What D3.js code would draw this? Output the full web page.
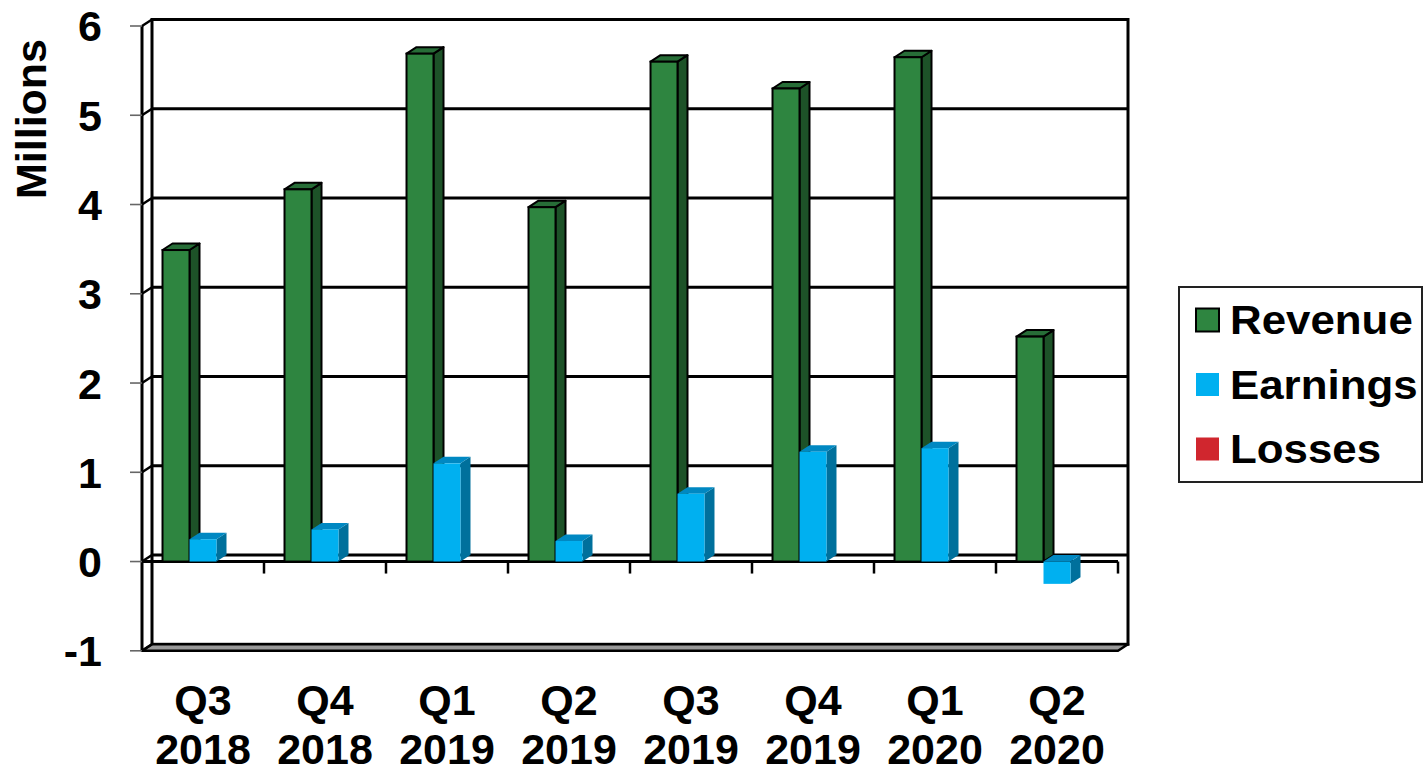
<!DOCTYPE html>
<html>
<head>
<meta charset="utf-8">
<script src="https://cdn.jsdelivr.net/npm/d3@7"></script>
<style>
  body { margin: 0; background: #fff; }
  svg { display: block; font-family: "Liberation Sans", Arial, sans-serif; font-weight: bold; }
</style>
</head>
<body>
<svg id="chart"></svg>
<script>
const width = 1424;
const height = 773;

// data (millions)
const quarters = ['Q3 2018', 'Q4 2018', 'Q1 2019', 'Q2 2019', 'Q3 2019', 'Q4 2019', 'Q1 2020', 'Q2 2020'];
const seriesNames = ['Revenue', 'Earnings', 'Losses'];
const revenue = [3.49, 4.17, 5.69, 3.97, 5.60, 5.30, 5.65, 2.52];
const earnings = [0.25, 0.36, 1.10, 0.23, 0.76, 1.23, 1.27, -0.25];
const losses = [null, null, null, null, null, null, null, null];
const yTicks = [-1, 0, 1, 2, 3, 4, 5, 6];

const colors = {
    Revenue: { front: '#2e8540', side: '#1d5228', top: '#276d37', stroke: '#000' },
    Earnings: { front: '#00b0f0', side: '#00709c', top: '#0088c2', stroke: 'none' },
    Losses: { front: '#d0262e', side: '#8a1a1f', top: '#a81f25', stroke: 'none' }
};

const svg = d3.select('#chart')
    .attr('width', width)
    .attr('height', height);

const x0 = 142, x1 = 1118;
const dx = 10, dy = -6.5;   // depth offset

const x = d3.scaleBand().domain(quarters).range([x0, x1]).padding(0);
const xs = d3.scaleBand().domain(seriesNames).range([0, x.bandwidth()])
    .paddingInner(0).paddingOuter(0.76);
const y = d3.scaleLinear().domain([-1, 6]).range([650.8, 26]);

const yTop = y(6), yBot = y(-1);

// back wall
svg.append('rect')
    .attr('x', x0 + dx).attr('y', yTop + dy)
    .attr('width', x1 - x0).attr('height', yBot - yTop)
    .attr('fill', '#fff').attr('stroke', '#000').attr('stroke-width', 3);

// floor
svg.append('polygon')
    .attr('points', [[x0, yBot], [x1, yBot], [x1 + dx, yBot + dy], [x0 + dx, yBot + dy]].join(' '))
    .attr('fill', '#999').attr('stroke', '#000').attr('stroke-width', 2.5)
    .attr('stroke-linejoin', 'round');

// gridlines on the back wall + left wall
const grid = svg.append('g').attr('stroke', '#000').attr('stroke-width', 3);
grid.selectAll('.gb')
    .data(yTicks.filter(t => t > -1 && t < 6))
    .join('line')
    .attr('x1', x0 + dx).attr('x2', x1 + dx)
    .attr('y1', d => y(d) + dy).attr('y2', d => y(d) + dy);
grid.selectAll('.gl')
    .data(yTicks)
    .join('line')
    .attr('stroke-width', 2.5)
    .attr('x1', x0).attr('x2', x0 + dx)
    .attr('y1', d => y(d)).attr('y2', d => y(d) + dy);

// front value axis
svg.append('line')
    .attr('x1', x0).attr('x2', x0).attr('y1', yTop).attr('y2', yBot)
    .attr('stroke', '#000').attr('stroke-width', 3);
svg.append('g').selectAll('line')
    .data(yTicks)
    .join('line')
    .attr('x1', x0 - 12).attr('x2', x0)
    .attr('y1', d => y(d)).attr('y2', d => y(d))
    .attr('stroke', '#666').attr('stroke-width', 1.6);

svg.append('g').selectAll('text')
    .data(yTicks)
    .join('text')
    .attr('x', 102).attr('y', d => y(d))
    .attr('dy', '0.36em')
    .attr('text-anchor', 'end')
    .attr('font-size', 43)
    .text(d => d);

svg.append('text')
    .attr('transform', `translate(46,119) rotate(-90)`)
    .attr('text-anchor', 'middle')
    .attr('font-size', 43)
    .text('Millions');

// category axis at zero
const zero = y(0);
svg.append('line')
    .attr('x1', x0).attr('x2', x1).attr('y1', zero).attr('y2', zero)
    .attr('stroke', '#000').attr('stroke-width', 3);
svg.append('g').selectAll('line')
    .data(quarters.slice(1).map(q => x(q)).concat([x1]))
    .join('line')
    .attr('x1', d => d).attr('x2', d => d)
    .attr('y1', zero).attr('y2', zero + 12)
    .attr('stroke', '#000').attr('stroke-width', 2.5);

// bars
const seriesData = { Revenue: revenue, Earnings: earnings, Losses: losses };
const bw = xs.bandwidth();

function barFaces(g, bx, v, c) {
    const ya = y(Math.max(v, 0)), yb = y(Math.min(v, 0));
    const stroke = c.stroke, sw = stroke === 'none' ? 0 : 2;
    // side
    g.append('polygon')
        .attr('points', [[bx + bw, ya], [bx + bw + dx, ya + dy], [bx + bw + dx, yb + dy], [bx + bw, yb]].join(' '))
        .attr('fill', c.side).attr('stroke', stroke).attr('stroke-width', sw).attr('stroke-linejoin', 'round');
    // top
    g.append('polygon')
        .attr('points', [[bx, ya], [bx + dx, ya + dy], [bx + bw + dx, ya + dy], [bx + bw, ya]].join(' '))
        .attr('fill', c.top).attr('stroke', stroke).attr('stroke-width', sw).attr('stroke-linejoin', 'round');
    // front
    g.append('rect')
        .attr('x', bx).attr('y', ya).attr('width', bw).attr('height', yb - ya)
        .attr('fill', c.front).attr('stroke', stroke).attr('stroke-width', sw);
}

const bars = svg.append('g');
quarters.forEach((q, i) => {
    seriesNames.forEach(s => {
        const v = seriesData[s][i];
        if (v == null) return;
        barFaces(bars.append('g'), x(q) + xs(s), v, colors[s]);
    });
});

// category labels
const cats = svg.append('g').attr('text-anchor', 'middle').attr('font-size', 43);
quarters.forEach(q => {
    const [a, b] = q.split(' ');
    const cx = x(q) + x.bandwidth() / 2;
    const t = cats.append('text').attr('x', cx);
    t.append('tspan').attr('x', cx).attr('y', 715).text(a);
    t.append('tspan').attr('x', cx).attr('y', 764).text(b);
});

// legend
const legend = svg.append('g');
legend.append('rect')
    .attr('x', 1179).attr('y', 287).attr('width', 243).attr('height', 195)
    .attr('fill', '#fff').attr('stroke', '#222').attr('stroke-width', 2);
seriesNames.forEach((s, i) => {
    const ly = 320 + i * 64.5;
    legend.append('rect')
        .attr('x', 1196).attr('y', ly - 11.5).attr('width', 23).attr('height', 23)
        .attr('fill', colors[s].front)
        .attr('stroke', colors[s].stroke).attr('stroke-width', colors[s].stroke === 'none' ? 0 : 2);
    legend.append('text')
        .attr('x', 1230).attr('y', ly + 14.5)
        .attr('font-size', 41)
        .attr('transform', `translate(1230,0) scale(1.07,1) translate(-1230,0)`)
        .text(s);
});
</script>
</body>
</html>
